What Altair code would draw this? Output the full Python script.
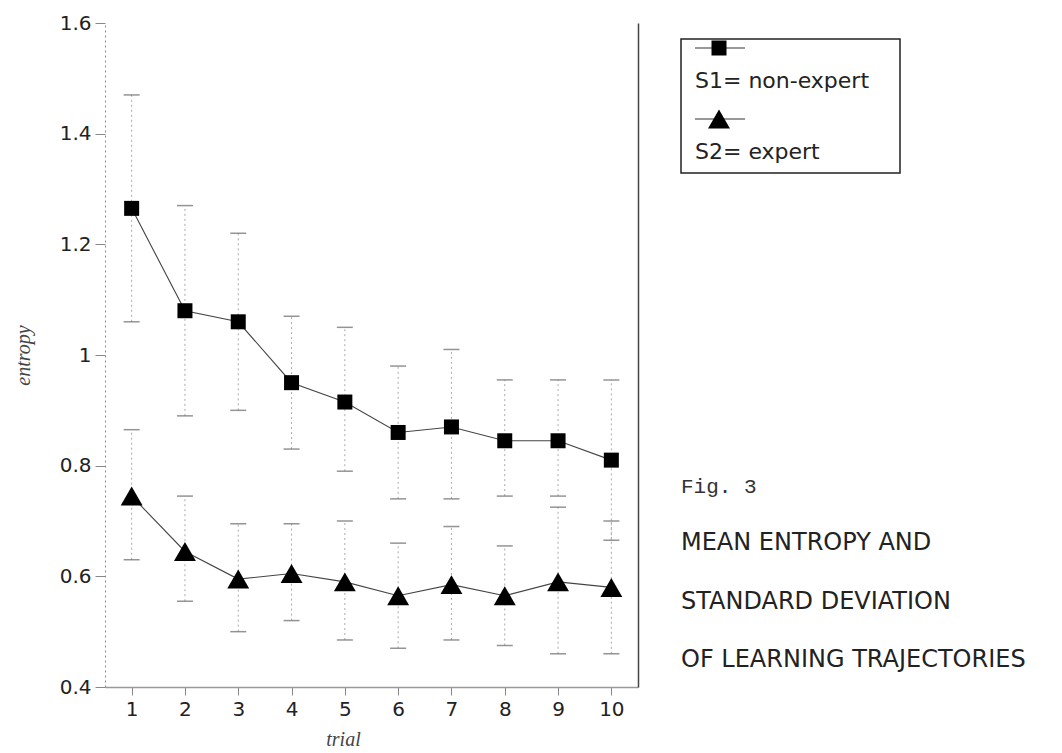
import altair as alt
import pandas as pd

# ---- data ----
trials = [1, 2, 3, 4, 5, 6, 7, 8, 9, 10]
series_names = ["S1= non-expert", "S2= expert"]

s1_mean = [1.265, 1.08, 1.06, 0.95, 0.915, 0.86, 0.87, 0.845, 0.845, 0.81]
s1_hi = [1.47, 1.27, 1.22, 1.07, 1.05, 0.98, 1.01, 0.955, 0.955, 0.955]
s1_lo = [1.06, 0.89, 0.90, 0.83, 0.79, 0.74, 0.74, 0.745, 0.745, 0.665]

s2_mean = [0.745, 0.645, 0.595, 0.605, 0.59, 0.565, 0.585, 0.565, 0.59, 0.58]
s2_hi = [0.865, 0.745, 0.695, 0.695, 0.70, 0.66, 0.69, 0.655, 0.725, 0.70]
s2_lo = [0.63, 0.555, 0.50, 0.52, 0.485, 0.47, 0.485, 0.475, 0.46, 0.46]

y_ticks = [0.4, 0.6, 0.8, 1.0, 1.2, 1.4, 1.6]
fig_label = "Fig. 3"
caption_lines = ["MEAN ENTROPY AND", "STANDARD DEVIATION", "OF LEARNING TRAJECTORIES"]

rows = []
for name, means, los, his in [(series_names[0], s1_mean, s1_lo, s1_hi),
                              (series_names[1], s2_mean, s2_lo, s2_hi)]:
    for t, m, lo, hi in zip(trials, means, los, his):
        rows.append({"trial": t, "series": name, "mean": m, "lo": lo, "hi": hi})
df = pd.DataFrame(rows)

# ---- scales / axes ----
x_scale = alt.Scale(domain=[0.5, 10.5], nice=False, zero=False)
y_scale = alt.Scale(domain=[0.4, 1.6], nice=False, zero=False)
shape_scale = alt.Scale(domain=series_names, range=["square", "triangle-up"])
size_scale = alt.Scale(domain=series_names, range=[225, 480])

x_enc = alt.X("trial:Q", scale=x_scale,
              axis=alt.Axis(values=trials, format="d", title="trial",
                            tickSize=8, tickColor="#888", domainColor="#999",
                            domainWidth=1.5, labelPadding=4, titlePadding=10,
                            titleX=238, grid=False))
y_axis_left = alt.Axis(values=y_ticks, format="~g", title="entropy",
                       tickSize=10, tickColor="#888", domainColor="#888",
                       domainDash=[2, 3], labelPadding=4, titlePadding=26,
                       grid=False)

base = alt.Chart(df)

errbars = base.mark_rule(color="#aaa", strokeDash=[2, 3], strokeWidth=1).encode(
    x=x_enc,
    y=alt.Y("lo:Q", scale=y_scale, axis=y_axis_left),
    y2="hi:Q",
)
caps_hi = base.mark_tick(orient="horizontal", size=16, thickness=1.5, color="#666").encode(
    x=x_enc, y=alt.Y("hi:Q", scale=y_scale, axis=None)
)
caps_lo = base.mark_tick(orient="horizontal", size=16, thickness=1.5, color="#666").encode(
    x=x_enc, y=alt.Y("lo:Q", scale=y_scale, axis=None)
)
lines = base.mark_line(color="#444", strokeWidth=1.1).encode(
    x=x_enc, y=alt.Y("mean:Q", scale=y_scale, axis=None), detail="series:N"
)
points = base.mark_point(filled=True, color="black", opacity=1).encode(
    x=x_enc,
    y=alt.Y("mean:Q", scale=y_scale, axis=None),
    shape=alt.Shape("series:N", scale=shape_scale, legend=None),
    size=alt.Size("series:N", scale=size_scale, legend=None),
)
right_frame = base.mark_point(opacity=0).encode(
    x=x_enc,
    y=alt.Y("mean:Q", scale=y_scale,
            axis=alt.Axis(orient="right", labels=False, ticks=False, title=None,
                          domainColor="#444", domainWidth=1.5, grid=False)),
)

main = alt.layer(errbars, caps_hi, caps_lo, lines, points, right_frame).resolve_axis(
    y="independent"
).properties(width=533, height=664)

# ---- legend + caption panel ----
leg_df = pd.DataFrame({"series": series_names})
# point scale (default padding 0.5): entries land at 25 and 96 px
leg_y = alt.Y("series:N", scale=alt.Scale(domain=series_names, range=[-10.5, 131.5]),
              axis=None)

box = alt.Chart(pd.DataFrame({"b": [0]})).mark_rect(
    filled=False, stroke="#222", strokeWidth=1.5
).encode(x=alt.value(-3), x2=alt.value(216), y=alt.value(16), y2=alt.value(150))

leg_line = alt.Chart(leg_df).mark_rule(color="#333", strokeWidth=1.2).encode(
    x=alt.value(11), x2=alt.value(61), y=leg_y
)
leg_pt = alt.Chart(leg_df).mark_point(filled=True, color="black", opacity=1).encode(
    x=alt.value(35), y=leg_y,
    shape=alt.Shape("series:N", scale=shape_scale, legend=None),
    size=alt.Size("series:N", scale=alt.Scale(domain=series_names, range=[130, 260]), legend=None),
)
leg_txt = alt.Chart(leg_df).mark_text(
    align="left", baseline="alphabetic", dy=40, fontSize=22, font="DejaVu Sans", color="#222"
).encode(x=alt.value(11), y=leg_y, text="series:N")

fig_txt = alt.Chart(pd.DataFrame({"c": [0]})).mark_text(
    align="left", baseline="alphabetic", fontSize=21, font="Liberation Mono", color="#333"
).encode(x=alt.value(-3), y=alt.value(470), text=alt.value(fig_label))

cap_txt = alt.Chart(pd.DataFrame({"c": [0]})).mark_text(
    align="left", baseline="alphabetic", fontSize=24, font="DejaVu Sans",
    lineHeight=58.5, color="#222"
).encode(x=alt.value(-3), y=alt.value(527), text=alt.value(caption_lines))

panel = alt.layer(box, leg_line, leg_pt, leg_txt, fig_txt, cap_txt).properties(
    width=360, height=664
)

chart = alt.hconcat(main, panel, spacing=42).properties(
    padding={"left": 5, "top": 5, "right": 5, "bottom": 0}
).configure_view(stroke=None).configure_axis(
    labelFont="DejaVu Sans", labelFontSize=20, labelColor="#222",
    titleFont="Liberation Serif", titleFontSize=20, titleFontStyle="italic",
    titleFontWeight="normal", titleColor="#444",
)

chart.save("out.html", embed_options={"renderer": "svg", "actions": False})
